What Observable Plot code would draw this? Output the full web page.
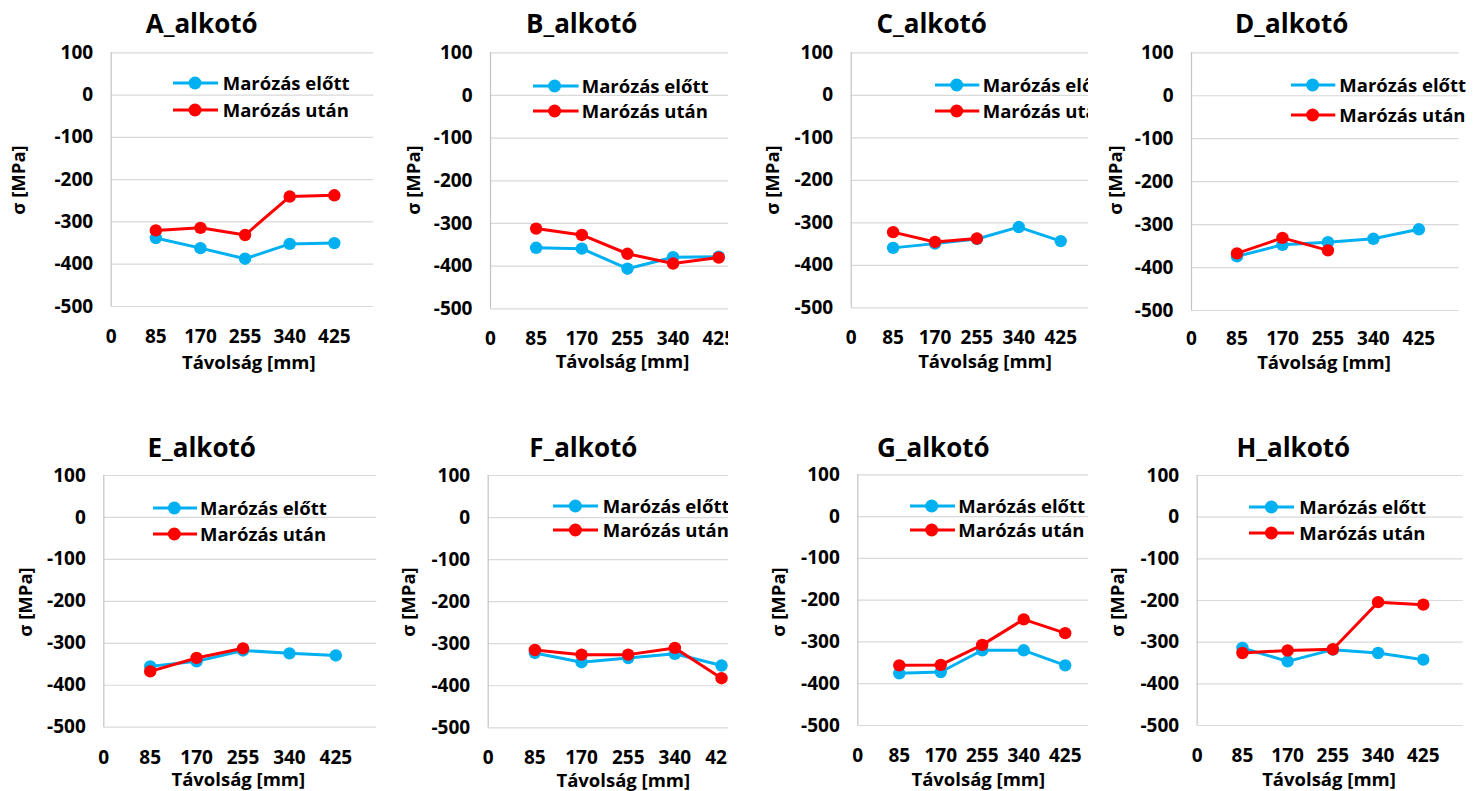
<!DOCTYPE html>
<html><head><meta charset="utf-8">
<script src="https://cdn.jsdelivr.net/npm/d3@7"></script>
<script src="https://cdn.jsdelivr.net/npm/@observablehq/plot@0.6"></script>
<style>
body{margin:0;background:#fff;}
#root{position:relative;width:1479px;height:791px;overflow:hidden;background:#fff;font-family:"Open Sans",sans-serif;font-weight:700;color:#000;}
.panel{position:absolute;overflow:hidden;background:#fff;}
.panel svg.plot{position:absolute;left:0;top:0;max-width:none !important;}
.t{position:absolute;white-space:nowrap;line-height:1;}
.title{font-size:26px;transform:translate(-50%,-50%);}
.xt{font-size:18.5px;transform:translate(-50%,-50%);}
.yt{font-size:18.5px;transform:translate(-50%,-50%) rotate(-90deg);}
.lt{font-size:18.5px;transform:translateY(-50%);}
.sym{position:absolute;overflow:visible;}
</style></head><body><div id="root"></div><script>
// ---- data ----
const distances = [85, 170, 255, 340, 425];
const xTicks = [0, 85, 170, 255, 340, 425];
const yTicks = [-500, -400, -300, -200, -100, 0, 100];
const panelNames = ["A_alkotó","B_alkotó","C_alkotó","D_alkotó","E_alkotó","F_alkotó","G_alkotó","H_alkotó"];
const seriesNames = ["Marózás előtt", "Marózás után"];
const seriesColors = ["#00B0F0", "#FF0000"];
const xTitle = "Távolság [mm]";
const yTitle = "σ [MPa]";

const before_A = [-338, -362, -387, -352, -350];
const after_A  = [-320, -314, -331, -240, -237];
const before_B = [-357, -359, -406, -379, -378];
const after_B  = [-312, -327, -371, -394, -380];
const before_C = [-359, -349, -338, -310, -343];
const after_C  = [-322, -345, -337];
const before_D = [-374, -347, -341, -333, -311];
const after_D  = [-367, -331, -360];
const before_E = [-355, -343, -317, -324, -329];
const after_E  = [-367, -335, -312];
const before_F = [-322, -344, -334, -324, -352];
const after_F  = [-315, -326, -326, -310, -382];
const before_G = [-375, -372, -320, -320, -356];
const after_G  = [-356, -355, -307, -246, -279];
const before_H = [-314, -346, -318, -326, -342];
const after_H  = [-326, -320, -317, -204, -210];

const beforeSeries = [before_A, before_B, before_C, before_D, before_E, before_F, before_G, before_H];
const afterSeries  = [after_A, after_B, after_C, after_D, after_E, after_F, after_G, after_H];

// ---- layout (absolute page px) ----
const layout = [
  {box:[0,0,374,400],    x0:110.7, k:0.525, y0:52.3, y1:306,   pad:23, title:[201.7,23.3], xt:[248.8,361.7], yt:[18.3,180],   leg:[173,218,195,222.7,83.3,110]},
  {box:[374,0,354,400],  x0:490,   k:0.537, y0:52.3, y1:308.3, pad:23, title:[581.7,23.3], xt:[622.5,360.5], yt:[413.3,180],  leg:[532.7,578.3,554.3,581.7,86,111]},
  {box:[728,0,360,400],  x0:850.7, k:0.493, y0:52.3, y1:307.3, pad:23, title:[931.7,23.3], xt:[985,360.5],   yt:[771.7,180],  leg:[935,979.3,956.7,982.7,85,111]},
  {box:[1088,0,391,400], x0:1191,  k:0.535, y0:52.3, y1:310,   pad:21, title:[1291.7,23.3],xt:[1324,362],    yt:[1115,180],   leg:[1290.7,1335,1312.3,1339.3,85,115]},
  {box:[0,400,377,391],  x0:103.3, k:0.546, y0:475,  y1:726.7, pad:23, title:[201.7,446.5],xt:[238.3,778.8], yt:[25,601.7],   leg:[152.7,196.7,174,200,508.3,534]},
  {box:[377,400,351,391],x0:487.7, k:0.549, y0:475,  y1:727.3, pad:23, title:[583.3,446.5],xt:[623.3,779.5], yt:[408.3,601.7],leg:[553.3,598.3,575.7,602.7,505.7,530]},
  {box:[728,400,360,391],x0:857.3, k:0.488, y0:474.3,y1:725,   pad:23, title:[933.3,446.5],xt:[978.3,778.8], yt:[778.3,601.7],leg:[910,955,931.7,958.3,506,530]},
  {box:[1088,400,391,391],x0:1196.7,k:0.532,y0:475,  y1:725,   pad:23, title:[1293.3,446.5],xt:[1329,778.8], yt:[1116.7,601.7],leg:[1249.3,1294.3,1271.7,1299.3,507.3,532.7]}
];

const root = document.getElementById("root");
const fmt = d => String(d);

panelNames.forEach((name, p) => {
  const L = layout[p];
  const [bl, bt, bw, bh] = L.box;
  const panel = document.createElement("div");
  panel.className = "panel";
  Object.assign(panel.style, {left: bl + "px", top: bt + "px", width: bw + "px", height: bh + "px"});
  root.appendChild(panel);

  const rowsBefore = beforeSeries[p].map((v, i) => ({x: distances[i], y: v}));
  const rowsAfter = afterSeries[p].map((v, i) => ({x: distances[i], y: v}));

  const x1 = L.x0 + 500 * L.k;
  const svgW = Math.ceil(x1 - bl + 2);
  const chart = Plot.plot({
    width: svgW,
    height: bh,
    marginLeft: L.x0 - bl,
    marginRight: svgW - (x1 - bl),
    marginTop: L.y0 - bt,
    marginBottom: bt + bh - L.y1,
    style: {fontFamily: "'Open Sans', sans-serif", fontSize: "19px", fontWeight: 700, color: "#000", background: "transparent", overflow: "visible", maxWidth: "none"},
    x: {domain: [0, 500]},
    y: {domain: [-500, 100]},
    marks: [
      Plot.ruleY(yTicks, {stroke: "#D9D9D9", strokeWidth: 1.2}),
      Plot.ruleX([0], {stroke: "#C4C4C4", strokeWidth: 1.2}),
      Plot.axisY({ticks: yTicks, tickFormat: fmt, tickSize: 0, tickPadding: 18, label: null, fontSize: 19}),
      Plot.axisX({ticks: xTicks, tickFormat: fmt, tickSize: 0, tickPadding: L.pad, label: null, fontSize: 19}),
      Plot.line(rowsBefore, {x: "x", y: "y", stroke: seriesColors[0], strokeWidth: 3}),
      Plot.dot(rowsBefore, {x: "x", y: "y", r: 6.2, fill: seriesColors[0]}),
      Plot.line(rowsAfter, {x: "x", y: "y", stroke: seriesColors[1], strokeWidth: 3}),
      Plot.dot(rowsAfter, {x: "x", y: "y", r: 6.2, fill: seriesColors[1]})
    ]
  });
  chart.classList.add("plot");
  chart.style.maxWidth = "none";
  panel.appendChild(chart);

  const addText = (cls, txt, ax, ay) => {
    const d = document.createElement("div");
    d.className = "t " + cls;
    d.textContent = txt;
    d.style.left = (ax - bl) + "px";
    d.style.top = (ay - bt) + "px";
    panel.appendChild(d);
    return d;
  };
  addText("title", name, L.title[0], L.title[1]);
  addText("xt", xTitle, L.xt[0], L.xt[1]);
  addText("yt", yTitle, L.yt[0], L.yt[1]);

  const [lx0, lx1, mx, tx, r1, r2] = L.leg;
  [r1, r2].forEach((ry, s) => {
    const w = lx1 - lx0;
    const sym = d3.create("svg").attr("class", "sym")
      .attr("width", w).attr("height", 16)
      .style("left", (lx0 - bl) + "px").style("top", (ry - bt - 8) + "px");
    sym.append("line").attr("x1", 0).attr("x2", w).attr("y1", 8).attr("y2", 8)
      .attr("stroke", seriesColors[s]).attr("stroke-width", 3);
    sym.append("circle").attr("cx", mx - lx0).attr("cy", 8).attr("r", 6.5).attr("fill", seriesColors[s]);
    panel.appendChild(sym.node());
    addText("lt", seriesNames[s], tx, ry);
  });
});
</script></body></html>
